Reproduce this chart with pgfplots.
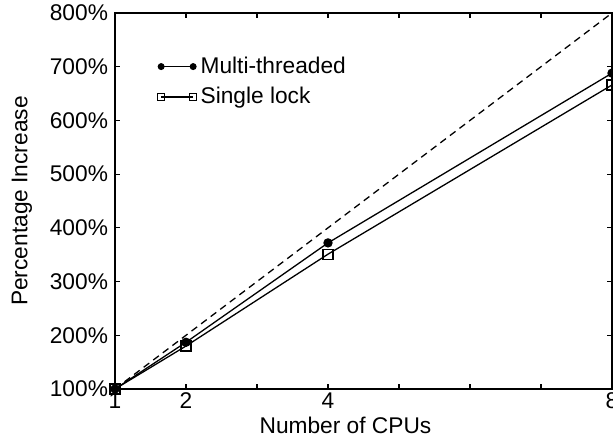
\documentclass[border=0pt]{standalone}
\usepackage{fontspec}
\setmainfont{Liberation Sans}
\usepackage{pgfplots}
\pgfplotsset{compat=1.18}
\begin{document}
\begin{tikzpicture}
\useasboundingbox (-57.5bp,-26bp) rectangle (249bp,194.5bp);
\begin{axis}[
  at={(0bp,0bp)}, anchor=south west,
  scale only axis, width=248.5bp, height=188bp,
  xmin=1, xmax=8, ymin=100, ymax=800,
  xtick={1,2,3,4,5,6,7,8}, xticklabels={1,2,,4,,,,8},
  ytick={100,200,300,400,500,600,700,800},
  yticklabel={\pgfmathprintnumber{\tick}\%},
  /pgf/number format/assume math mode=true,
  tick align=inside, major tick length=2.5bp,
  every tick/.style={black, line width=0.6bp},
  axis line style={line width=0.8bp},
  font=\fontsize{11.4}{13}\selectfont,
  tick label style={font=\fontsize{11.4}{13}\selectfont},
  xticklabel style={yshift=1.5bp},
  xlabel={Number of CPUs}, ylabel={Percentage Increase},
  xlabel style={xshift=-9bp, yshift=3bp},
  ylabel style={yshift=2bp},
  legend style={draw=none, fill=none, at={(0.085,0.895)}, anchor=north west,
    font=\fontsize{11.4}{13}\selectfont, row sep=1.5bp, inner sep=0pt},
  legend cell align=left,
  legend image code/.code={\draw[every mark/.append style={scale=0.7}] plot coordinates {(0bp,0bp) (16bp,0bp)};},
  clip=false,
]
\addplot[black, line width=0.65bp, dash pattern=on 3.5bp off 2.5bp, forget plot] coordinates {(1,100) (8,800)};
\addplot[black, line width=0.65bp, mark=*, mark size=2bp] coordinates {(1,100) (2,187) (4,372) (8,688)};
\addlegendentry{Multi-threaded}
\addplot[black, line width=0.65bp, mark=square, mark size=2.5bp, mark options={fill=white}] coordinates {(1,100) (2,180) (4,351) (8,666)};
\addlegendentry{Single lock}
\end{axis}
\end{tikzpicture}
\end{document}
